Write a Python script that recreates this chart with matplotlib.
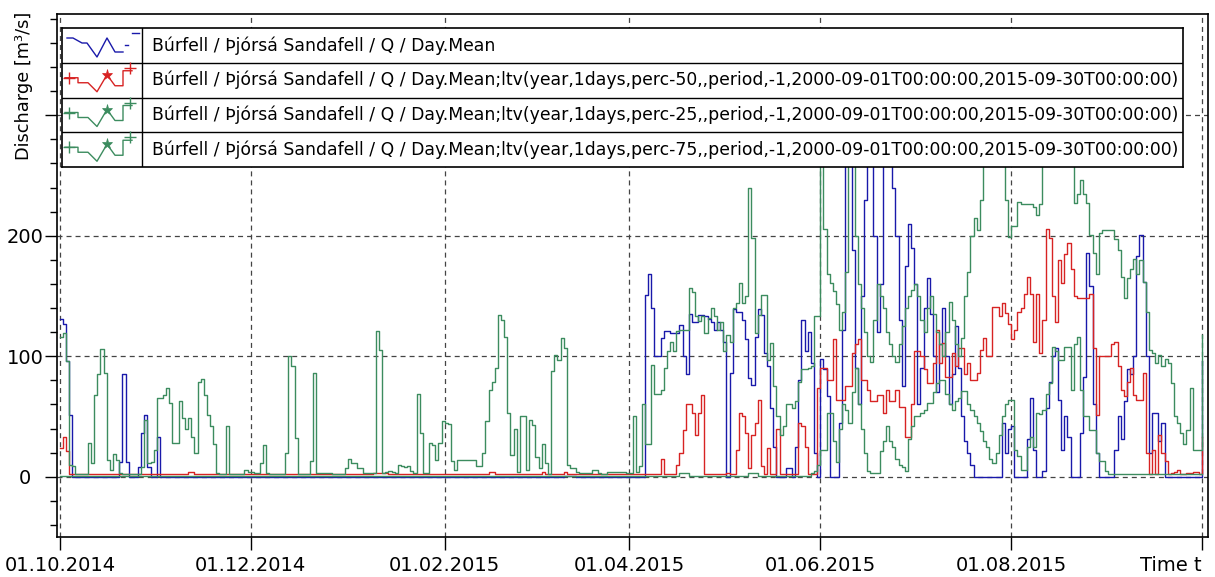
import matplotlib
matplotlib.use("Agg")
import matplotlib.dates as mdates
import matplotlib.pyplot as plt
import numpy as np
import pandas as pd
from matplotlib.ticker import FixedLocator, MultipleLocator

# Daily mean discharge [m3/s], one value per day from 01.10.2014 to 01.10.2015
q_obs = [
    # Oct
    131, 127, 96, 51, 0, 0, 0, 0, 0, 0, 0, 0, 0, 0, 0, 0, 0, 0, 0, 12, 85, 12, 0, 0, 0, 8, 36, 51, 8, 0, 0,
    # Nov
    33, 0, 0, 0, 0, 0, 0, 0, 0, 0, 0, 0, 0, 0, 0, 0, 0, 0, 0, 0, 0, 0, 0, 0, 0, 0, 0, 0, 0, 0,
    # Dec
    0, 0, 0, 0, 0, 0, 0, 0, 0, 0, 0, 0, 0, 0, 0, 0, 0, 0, 0, 0, 0, 0, 0, 0, 0, 0, 0, 0, 0, 0, 0,
    # Jan
    0, 0, 0, 0, 0, 0, 0, 0, 0, 0, 0, 0, 0, 0, 0, 0, 0, 0, 0, 0, 0, 0, 0, 0, 0, 0, 0, 0, 0, 0, 0,
    # Feb
    0, 0, 0, 0, 0, 0, 0, 0, 0, 0, 0, 0, 0, 0, 0, 0, 0, 0, 0, 0, 0, 0, 0, 0, 0, 0, 0, 0,
    # Mar
    0, 0, 0, 0, 0, 0, 0, 0, 0, 0, 1, 1, 1, 1, 0, 0, 0, 0, 0, 0, 0, 0, 0, 0, 0, 0, 0, 0, 0, 0, 0,
    # Apr
    0, 0, 0, 0, 0, 151, 168, 140, 100, 100, 115, 121, 121, 119, 119, 119, 126, 100, 85, 135,
    128, 128, 134, 134, 133, 131, 128, 122, 128, 122,
    # May
    112, 0, 86, 139, 137, 137, 130, 114, 82, 76, 116, 139, 134, 103, 92, 57, 25, 0, 0, 0,
    7, 7, 0, 25, 80, 130, 104, 120, 94, 20, 0,
    # Jun
    98, 89, 67, 0, 0, 0, 45, 122, 290, 300, 188, 90, 60, 150, 230, 300, 290, 200, 120, 160,
    290, 300, 290, 240, 200, 130, 75, 175, 210, 190,
    # Jul
    160, 60, 90, 140, 165, 135, 100, 70, 110, 140, 100, 60, 85, 125, 90, 50, 30, 20, 10, 0,
    0, 0, 0, 0, 0, 0, 0, 0, 45, 20, 40,
    # Aug
    42, 0, 0, 0, 0, 31, 65, 22, 0, 0, 5, 57, 79, 100, 107, 64, 22, 50, 33, 0,
    0, 0, 36, 83, 186, 158, 60, 20, 0, 0, 0,
    # Sep
    0, 0, 22, 50, 31, 63, 89, 85, 100, 183, 201, 162, 100, 20, 53, 53, 30, 45, 0, 0,
    0, 0, 0, 0, 0, 0, 0, 0, 0, 0,
    # 01.10.2015
    96,
]

q_p50 = [
    24, 33, 21, 2, 2, 2, 2, 2, 2, 2, 2, 2, 2, 2, 2, 2, 2, 2, 2, 2, 2, 2, 2, 2, 2, 2, 2, 2, 2, 2, 2,
    2, 2, 2, 2, 2, 2, 2, 2, 2, 2, 4, 4, 2, 2, 2, 2, 2, 2, 2, 2, 2, 2, 2, 2, 2, 2, 2, 2, 2, 2,
    2, 2, 2, 2, 2, 2, 2, 2, 2, 2, 2, 2, 2, 2, 2, 2, 2, 2, 2, 2, 2, 2, 2, 2, 2, 2, 2, 2, 2, 2, 2,
    2, 2, 2, 2, 2, 2, 2, 2, 3, 3, 3, 3, 3, 2, 2, 2, 2, 2, 2, 2, 2, 2, 2, 2, 2, 2, 2, 2, 2, 2, 2,
    2, 2, 2, 2, 2, 2, 2, 2, 2, 2, 2, 2, 2, 2, 4, 4, 2, 2, 2, 2, 2, 2, 2, 2, 2, 2, 2, 2,
    2, 2, 2, 4, 2, 2, 2, 2, 2, 2, 4, 2, 2, 2, 2, 2, 2, 2, 2, 2, 2, 2, 2, 2, 2, 2, 2, 2, 2, 2, 2,
    2, 2, 2, 2, 2, 2, 2, 2, 2, 2, 15, 2, 2, 2, 2, 10, 20, 39, 60, 60, 53, 35, 53, 68, 2, 2, 2, 2, 2, 2,
    2, 3, 2, 2, 22, 53, 50, 36, 7, 35, 45, 64, 9, 2, 24, 2, 2, 40, 2, 2, 2, 2, 2, 2,
    45, 42, 25, 2, 2, 2, 74,
    90, 90, 80, 80, 114, 64, 64, 64, 75, 75, 103, 110, 114, 80, 80, 72, 63, 63, 68, 68,
    53, 72, 63, 63, 72, 58, 58, 33, 33, 60,
    104, 104, 100, 89, 78, 78, 94, 122, 94, 111, 83, 83, 103, 92, 107, 107, 85, 94, 80, 80,
    86, 105, 115, 100, 100, 141, 141, 133, 144, 136, 127,
    114, 122, 137, 140, 152, 166, 152, 112, 152, 103, 130, 206, 198, 150, 128, 180, 161, 185, 194, 172,
    150, 148, 148, 148, 148, 152, 107, 51, 100, 100, 100,
    100, 110, 112, 92, 72, 67, 79, 90, 68, 64, 64, 86, 20, 2, 22, 2, 35, 20, 13, 2,
    3, 4, 6, 2, 2, 3, 3, 4, 4, 2,
    33,
]

q_p25 = [
    1, 1, 1, 1, 1, 1, 1, 1, 1, 1, 1, 1, 1, 1, 1, 1, 1, 1, 1, 1, 1, 1, 1, 1, 1, 1, 1, 1, 1, 1, 1,
    1, 1, 1, 1, 1, 1, 1, 1, 1, 1, 1, 1, 1, 1, 1, 1, 1, 1, 1, 1, 1, 1, 1, 1, 1, 1, 1, 1, 1, 1,
    1, 1, 1, 1, 1, 1, 1, 1, 1, 1, 1, 1, 1, 1, 1, 1, 1, 1, 1, 1, 1, 1, 1, 1, 1, 1, 1, 1, 1, 1, 1,
    1, 1, 1, 1, 1, 1, 1, 1, 1, 1, 1, 1, 1, 1, 1, 1, 1, 1, 1, 1, 1, 1, 1, 1, 1, 1, 1, 1, 1, 1, 1,
    1, 1, 1, 1, 1, 1, 1, 1, 1, 1, 1, 1, 1, 1, 1, 1, 1, 1, 1, 1, 1, 1, 1, 1, 1, 1, 1, 1,
    1, 1, 1, 1, 1, 1, 1, 1, 1, 1, 1, 1, 1, 1, 1, 1, 1, 1, 1, 1, 1, 1, 1, 1, 1, 1, 1, 1, 1, 1, 1,
    1, 1, 1, 1, 1, 1, 1, 1, 1, 1, 1, 1, 1, 1, 1, 1, 3, 3, 3, 1, 1, 1, 1, 1, 1, 1, 1, 1, 1, 1,
    1, 1, 1, 1, 1, 1, 1, 1, 3, 3, 3, 1, 1, 1, 1, 1, 1, 1, 1, 1, 1, 1, 1, 1, 1, 1, 1, 1, 3, 5, 10,
    22, 22, 53, 53, 30, 12, 40, 60, 55, 45, 70, 90, 60, 40, 20, 5, 3, 3, 3, 21,
    30, 42, 30, 25, 15, 10, 8, 5, 31, 42,
    50, 50, 53, 55, 61, 61, 70, 78, 80, 80, 69, 60, 55, 63, 65, 71, 71, 60, 55, 50,
    45, 38, 30, 25, 15, 11, 20, 35, 50, 60, 64,
    64, 22, 17, 6, 6, 25, 33, 25, 53, 52, 55, 69, 78, 108, 104, 97, 97, 108, 108, 72,
    110, 116, 72, 50, 50, 39, 39, 20, 13, 13, 5,
    2, 2, 2, 2, 2, 2, 2, 2, 2, 2, 2, 2, 2, 2, 2, 2, 2, 2, 2, 2, 2, 2, 2, 2, 2, 2, 2, 2, 2, 2,
    2,
]

q_p75 = [
    116, 119, 96, 10, 9, 2, 2, 2, 2, 28, 11, 68, 85, 106, 86, 14, 6, 19, 14, 3,
    2, 2, 2, 2, 2, 2, 8, 47, 11, 12, 22,
    65, 65, 68, 74, 61, 28, 28, 63, 49, 40, 49, 33, 20, 79, 81, 68, 51, 42, 27, 3,
    2, 2, 42, 2, 2, 2, 2, 2, 6, 4,
    4, 3, 3, 11, 26, 3, 2, 2, 2, 2, 2, 20, 100, 92, 32, 2, 2, 2, 2, 13,
    86, 3, 3, 3, 3, 3, 2, 2, 2, 2, 7,
    15, 11, 11, 7, 7, 3, 3, 3, 3, 121, 105, 3, 4, 5, 4, 3, 10, 9, 8, 9,
    5, 3, 69, 36, 3, 3, 28, 26, 14, 28, 46,
    45, 44, 13, 6, 14, 14, 14, 14, 14, 14, 9, 9, 20, 46, 72, 79, 90, 134, 130, 116,
    53, 18, 40, 4, 50, 50, 6, 47,
    43, 16, 7, 27, 11, 2, 88, 101, 97, 115, 107, 10, 7, 7, 4, 3, 3, 3, 3, 6,
    6, 3, 2, 2, 4, 4, 4, 4, 4, 4, 3,
    3, 50, 4, 9, 60, 27, 27, 93, 69, 69, 72, 90, 104, 112, 104, 121, 122, 122, 122, 157,
    153, 133, 129, 133, 119, 132, 140, 133, 122, 128,
    104, 118, 112, 140, 144, 161, 144, 150, 240, 198, 119, 134, 151, 151, 97, 111, 75, 50, 35, 42,
    60, 60, 57, 63, 79, 89, 89, 90, 92, 133, 133,
    300, 206, 168, 161, 154, 143, 122, 137, 170, 290, 300, 200, 160, 140, 120, 100, 95, 130, 160, 150,
    140, 120, 110, 100, 95, 110, 125, 140, 150, 155,
    160, 150, 130, 120, 140, 150, 135, 120, 110, 100, 120, 145, 130, 110, 100, 115, 150, 170, 200, 215,
    205, 230, 260, 300, 300, 280, 300, 300, 300, 230, 199,
    208, 208, 228, 226, 226, 226, 226, 224, 217, 226, 300, 300, 300, 300, 300, 300, 300, 300, 300, 300,
    227, 235, 246, 235, 227, 201, 186, 168, 202, 205, 205,
    205, 205, 197, 188, 166, 148, 165, 172, 181, 168, 180, 162, 137, 105, 103, 94, 101, 92, 98, 94,
    78, 50, 45, 36, 27, 39, 74, 22, 22, 22,
    118,
]

tick_dates = ["2014-10-01", "2014-12-01", "2015-02-01", "2015-04-01",
              "2015-06-01", "2015-08-01", "2015-10-01"]
tick_labels = ["01.10.2014", "01.12.2014", "01.02.2015", "01.04.2015",
               "01.06.2015", "01.08.2015", "Time t"]

name = "Búrfell / Þjórsá Sandafell / Q / Day.Mean"
ltv = ";ltv(year,1days,perc-{},,period,-1,2000-09-01T00:00:00,2015-09-30T00:00:00)"
legend_labels = [name, name + ltv.format(50), name + ltv.format(25), name + ltv.format(75)]

colors = ["#1919aa", "#d72323", "#3c8c5f", "#3c8c5f"]

plt.rcParams["lines.scale_dashes"] = False
plt.rcParams["font.family"] = "DejaVu Sans"

W, H = 1215, 577
fig = plt.figure(figsize=(W / 100, H / 100), dpi=100)
ax = fig.add_axes([57 / W, 1 - 537 / H, (1208 - 57) / W, (537 - 14) / H])

series = [q_obs, q_p50, q_p25, q_p75]
n = len(q_obs)
assert all(len(s) == n for s in series)
days = pd.date_range("2014-10-01", periods=n, freq="D")
xd = mdates.date2num(days)

for vals, c in zip(series, colors):
    ax.plot(xd, np.asarray(vals, dtype=float), drawstyle="steps-post", color=c, lw=1.0, zorder=3)

t0 = mdates.date2num(pd.Timestamp("2014-10-01"))
ax.set_xlim(t0 - 0.9, t0 + 366.9)
ax.set_ylim(-50, 384)

ax.xaxis.set_major_locator(FixedLocator(mdates.date2num(pd.to_datetime(tick_dates))))
ax.set_xticklabels(tick_labels)
ax.get_xticklabels()[-1].set_horizontalalignment("right")
ax.set_yticks([0, 100, 200, 300])
ax.set_yticklabels(["0", "100", "200", ""])
for lab in ax.get_yticklabels():
    lab.set_horizontalalignment("center")
ax.yaxis.set_minor_locator(MultipleLocator(20))
ax.tick_params(axis="both", which="major", length=9, width=1.0, labelsize=14)
ax.tick_params(axis="y", which="minor", length=5, width=1.0)
ax.tick_params(axis="y", which="major", pad=14)
ax.tick_params(axis="x", which="major", pad=5)
for sp in ax.spines.values():
    sp.set_linewidth(1.2)
ax.grid(True, which="major", color="#444444", lw=0.9, linestyle=(0, (3.6, 2.9)), zorder=1)
ax.set_axisbelow(True)

fig.text(24 / W, 1 - 12 / H, "Discharge [m³/s]", rotation=90, ha="center", va="top", fontsize=12.8)

# legend box drawn in its own pixel-scaled axes
lw_, lh_ = 1183 - 62, 167 - 28
lax = fig.add_axes([62 / W, 1 - 167 / H, lw_ / W, lh_ / H])
lax.set_xlim(0, lw_)
lax.set_ylim(lh_, 0)
lax.set_xticks([])
lax.set_yticks([])
lax.set_facecolor("white")
for sp in lax.spines.values():
    sp.set_linewidth(1.2)
row_h = lh_ / 4
for i in range(1, 4):
    lax.plot([0, lw_], [i * row_h, i * row_h], color="black", lw=1.0)
lax.plot([80, 80], [0, lh_], color="black", lw=1.0)

for i, (label, c) in enumerate(zip(legend_labels, colors)):
    top = i * row_h
    if i == 0:
        px = [5, 11, 20, 25, 35, 45, 53, 61]
        py = [10, 10, 15, 15, 29, 10, 24, 24]
        lax.plot(px, [top + v for v in py], color=c, lw=1.0)
        lax.plot([63, 66], [top + 17, top + 17], color=c, lw=1.0)
        lax.plot([70, 77], [top + 5, top + 5], color=c, lw=1.0)
    else:
        px = [3, 16, 16, 26, 35, 45, 53, 61, 61, 70]
        py = [15, 15, 20, 20, 29, 12, 23, 23, 8, 8]
        lax.plot(px, [top + v for v in py], color=c, lw=1.0)
        lax.plot([7], [top + 15], marker="+", ms=9, mew=1.0, color=c)
        lax.plot([45], [top + 12], marker="*", ms=8, mew=0.5, color=c)
        lax.plot([68], [top + 5], marker="+", ms=9, mew=1.0, color=c)
    lax.text(90, top + row_h / 2, label, ha="left", va="center", fontsize=12.4)

fig.savefig("out.png", dpi=100)
